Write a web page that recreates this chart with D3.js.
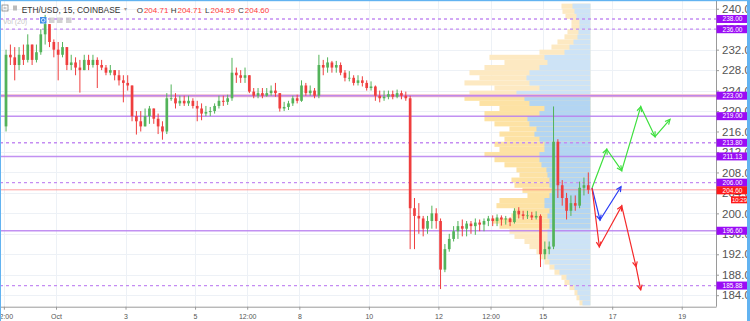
<!DOCTYPE html>
<html>
<head>
<meta charset="utf-8">
<script src="https://cdn.jsdelivr.net/npm/d3@7"></script>
<style>
body{margin:0;background:#fff;}
svg{display:block;font-family:"Liberation Sans",Arial,sans-serif;}
</style>
</head>
<body>
<svg id="chart" width="750" height="321"></svg>
<script>
// ETH/USD 15 COINBASE, candles resampled to 3h
var candleStart = Date.UTC(2017, 8, 29, 12);
var candleHours = 3;
var firstOpen = 217;
var closes = [231,230.5,229,231,230,233,230,231.5,235,237,233.5,232,231,232.5,229,229.5,228.5,228,230,229,
  230,229,228.5,227.5,228,227,226,225.5,225,219,218,217,219,220.5,218.5,217,216,222.5,222.5,221.5,
  222,221.5,222,221,220.5,219.5,219.8,220,221,222,221.8,222.5,227.5,227,226.5,227,223.8,223,223.5,223,
  223.5,224,223.5,220.5,220.8,221.5,222.5,222,225,223.5,224,223,229,228.5,229.5,228.5,229,227.5,226.5,226.5,
  225.5,226,225.5,224.5,224.8,223,222.5,222.8,223.3,222.8,223.5,223,222.5,201,199.5,199,197,198.5,200,198.5,
  189,193,195,196.5,197.5,197,198,197.5,198.2,197.8,198.5,199,198.5,199.2,198.8,199,198.3,200.5,199.8,199.5,
  199.6,199.2,199.5,192,193,193.5,214,205.5,203,200.5,202,201.5,205,205.5,204.6];
var highs = [232,233,232.5,232.5,233,235,233,233,236,238.8,237,234,233.5,233.5,232.5,231,230.5,230,231,231,
  231,230.5,230,229,229,228,228,227,227,225,220,220,220.5,221,220.5,219.5,218,223.5,225.2,223.5,
  223,223,223,222.5,222,221.5,221,220.8,221.5,223,223,223.2,230.4,228.5,228,228.5,227,224.5,224.5,224.5,
  224.5,225,225.5,223.5,221.8,222,223,223.2,226,225.5,225,224.5,231,230,230.5,229.8,229.8,229.5,228,227.8,
  227,227,226.8,226,225.8,225,224,224,224,224,224.2,224,223.8,223,203,202,199.5,199.5,201.5,201,
  199,194,196,197.5,198.5,198.8,198.5,198.5,199,198.8,199,199.5,199.6,199.8,199.6,199.5,199.2,201,201.2,200.5,
  200.5,200.3,200.4,199.8,194.5,194.5,220.9,214.5,206.5,204,203.5,203.5,206.2,207,208];
var lows = [216,229,226,228,229,229.5,229,229.5,231,233,232.5,230.5,226,230.5,228,228,227,223.6,228,228,
  228.5,224.5,228,227,227,226,225,221.7,224,218,215.4,216,217,217.5,217.5,215.5,214.4,215.5,222,220.5,
  221,221,221,220.5,218,218.2,219,219,219.5,220.5,221,221.2,222,225.5,225.5,225.5,223.5,222.5,222.5,222.5,
  222.8,223,222.8,219.9,220,220.2,221,221.5,221.8,223,223,222.5,222.5,227,227.5,227.5,227.5,227,225.8,225.8,
  225,225,224.8,224,224,222,221.7,222,222.3,222.3,222.5,222.3,222,193,193,196,195.5,196,197,197,
  185.2,188.5,192.5,194.5,195,195.5,195.5,196,195.8,196.5,196.5,197.5,197.5,197.5,197.6,197.8,197.5,198,199,198.8,
  198.9,198.7,198.8,189.5,191,192,193,203,201.5,198.8,199.5,200.5,201,203.5,203.8];

var header = {symbol: "ETH/USD, 15, COINBASE", o: "204.71", h: "204.71", l: "204.59", c: "204.60"};
var lastPrice = 204.60;
var countdown = "10:29";

var priceTicks = [184,188,192,196,200,204,208,212,216,220,224,228,232,236,240];
var timeTicks = [Date.UTC(2017,8,29,12), Date.UTC(2017,9,1), Date.UTC(2017,9,3), Date.UTC(2017,9,5),
  Date.UTC(2017,9,6,12), Date.UTC(2017,9,8), Date.UTC(2017,9,10), Date.UTC(2017,9,12),
  Date.UTC(2017,9,13,12), Date.UTC(2017,9,15), Date.UTC(2017,9,17), Date.UTC(2017,9,19)];
var timeLabels = ["12:00","Oct","3","5","12:00","8","10","12","12:00","15","17","19"];

// horizontal levels
var solidLevels = [223, 219, 211.13, 196.6];
var dashedLevels = [238, 236, 213.8, 206, 185.88];

// visible range volume profile, 1$ rows (bottom price of row), 182 .. 240
var profilePrices = d3.range(182, 241);
var profileUp = [8,11,13,16,21,24,31,36,41,43,
  43,43,43,43,43,41,41,43,41,46,
  46,41,39,41,41,43,44,49,51,51,
  46,46,51,56,54,61,63,51,46,61,
  66,74,51,61,64,61,51,43,46,26,
  21,17,13,12,11,11,14,16,18];
var profileTotal = [11,14,16,21,26,29,36,41,46,51,
  54,61,66,76,81,91,98,79,76,94,
  91,63,68,76,79,71,74,86,96,106,
  91,96,86,91,81,96,106,106,91,111,
  126,121,96,126,111,121,106,86,101,51,
  39,33,26,23,19,19,25,28,29];
var valueArea = [196.6, 223];

// hand drawn forecast paths [day of October, price]
var forecastGreen = [[16.42,204.96],[16.843,212.53],[17.274,208.34],[17.821,220.85],[18.233,214.99],[18.664,218.39]];
var forecastBlue = [[16.42,204.96],[16.65,198.7],[17.254,205.21]];
var forecastRed = [[16.42,204.96],[16.63,193.48],[17.274,201.44],[17.686,189.57],[17.821,185.02]];

var svgEle = document.getElementById("chart");
var svgWidth = parseFloat(svgEle.getAttribute("width"));
var svgHeight = parseFloat(svgEle.getAttribute("height"));
var plotRight = 716, plotBottom = 306.7;

var svg = d3.select("#chart");

var x = d3.scaleUtc()
  .domain([new Date(Date.UTC(2017,8,29,9,20)), new Date(Date.UTC(2017,9,19,23,40))])
  .range([0, plotRight]);
var y = d3.scaleLinear().domain([181.75, 241.71]).range([plotBottom, 0]);
var octDay = function(d){ return new Date(Date.UTC(2017,9,1) + (d - 1) * 864e5); };

svg.append("defs").append("clipPath").attr("id","plotClip")
  .append("rect").attr("width", plotRight).attr("height", plotBottom);

var plot = svg.append("g").attr("clip-path","url(#plotClip)");

// grid
plot.append("g").selectAll("line").data(priceTicks).enter().append("line")
  .attr("x1",0).attr("x2",plotRight)
  .attr("y1",function(d){return Math.round(y(d))+0.5;}).attr("y2",function(d){return Math.round(y(d))+0.5;})
  .attr("stroke","#edf1f6");
plot.append("g").selectAll("line").data(timeTicks).enter().append("line")
  .attr("y1",0).attr("y2",plotBottom)
  .attr("x1",function(d){return Math.round(x(d))+0.5;}).attr("x2",function(d){return Math.round(x(d))+0.5;})
  .attr("stroke","#edf1f6");

// volume profile
var anchor = x(new Date(candleStart + closes.length * candleHours * 3600e3));
var vol = d3.scaleLinear().domain([0, 130]).range([0, 130]);
var inVA = function(p){ return p >= Math.floor(valueArea[0]) + 1 && p < valueArea[1]; };
var rows = plot.append("g").selectAll("g").data(profilePrices).enter().append("g");
rows.append("rect")
  .attr("x",function(d,i){return anchor - vol(profileTotal[i]);})
  .attr("width",function(d,i){return vol(profileTotal[i]);})
  .attr("y",function(d){return y(d+1);})
  .attr("height",function(d){return y(d) - y(d+1);})
  .attr("fill",function(d){return inVA(d) ? "#fde2a4" : "#fde9c2";});
rows.append("rect")
  .attr("x",function(d,i){return anchor - vol(profileUp[i]);})
  .attr("width",function(d,i){return vol(profileUp[i]);})
  .attr("y",function(d){return y(d+1);})
  .attr("height",function(d){return y(d) - y(d+1);})
  .attr("fill",function(d){return inVA(d) ? "#b3d5f2" : "#cde3f6";});

// levels
plot.append("line").attr("x1",0).attr("x2",plotRight)
  .attr("y1",y(valueArea[1])).attr("y2",y(valueArea[1]))
  .attr("stroke","#f0b8c8").attr("stroke-width",3);
plot.append("g").selectAll("line").data(solidLevels).enter().append("line")
  .attr("x1",0).attr("x2",plotRight)
  .attr("y1",function(d){return y(d);}).attr("y2",function(d){return y(d);})
  .attr("stroke","#b77ef0").attr("stroke-width",1.5).attr("stroke-opacity",0.85);
plot.append("g").selectAll("line").data(dashedLevels).enter().append("line")
  .attr("x1",0).attr("x2",plotRight)
  .attr("y1",function(d){return y(d);}).attr("y2",function(d){return y(d);})
  .attr("stroke","#c48cf2").attr("stroke-width",1.3).attr("stroke-dasharray","3,3");

// current price line
plot.append("line").attr("x1",0).attr("x2",plotRight)
  .attr("y1",y(lastPrice)).attr("y2",y(lastPrice))
  .attr("stroke","#f77").attr("stroke-opacity",0.7);

// candles
var candles = closes.map(function(c,i){
  return {t: new Date(candleStart + (i + 0.5) * candleHours * 3600e3),
    o: i === 0 ? firstOpen : closes[i-1], h: highs[i], l: lows[i], c: c};
});
var bw = (x(new Date(candleStart + candleHours*3600e3)) - x(new Date(candleStart))) * 0.62;
var cg = plot.append("g").selectAll("g").data(candles).enter().append("g")
  .attr("stroke",function(d){return d.c >= d.o ? "#53b35a" : "#ef3e3e";})
  .attr("fill",function(d){return d.c >= d.o ? "#53b35a" : "#ef3e3e";});
cg.append("line")
  .attr("x1",function(d){return x(d.t);}).attr("x2",function(d){return x(d.t);})
  .attr("y1",function(d){return y(Math.max(d.h,d.o,d.c));})
  .attr("y2",function(d){return y(Math.min(d.l,d.o,d.c));})
  .attr("stroke-width",1);
cg.append("rect")
  .attr("x",function(d){return x(d.t) - bw/2;}).attr("width",bw)
  .attr("y",function(d){return y(Math.max(d.o,d.c));})
  .attr("height",function(d){return Math.max(0.8, y(Math.min(d.o,d.c)) - y(Math.max(d.o,d.c)));})
  .attr("stroke","none");

// forecast arrows
function drawForecast(pts, color){
  var g = plot.append("g").attr("stroke",color).attr("fill","none").attr("stroke-width",1.2);
  var xy = pts.map(function(p){return [x(octDay(p[0])), y(p[1])];});
  g.append("path").attr("d", d3.line()(xy));
  for (var i = 1; i < xy.length; i++){
    var a = Math.atan2(xy[i][1]-xy[i-1][1], xy[i][0]-xy[i-1][0]);
    var L = 5.5, s = 0.45;
    var p1 = [xy[i][0] - L*Math.cos(a - s), xy[i][1] - L*Math.sin(a - s)];
    var p2 = [xy[i][0] - L*Math.cos(a + s), xy[i][1] - L*Math.sin(a + s)];
    g.append("path").attr("d", d3.line()([p1, xy[i], p2]));
  }
}
drawForecast(forecastGreen, "#3ee03e");
drawForecast(forecastBlue, "#2a3cf5");
drawForecast(forecastRed, "#f52a2a");

// axes
var xAxis = d3.axisBottom(x)
  .tickValues(timeTicks.map(function(d){return new Date(d);}))
  .tickFormat(function(d,i){return timeLabels[i];})
  .tickSize(3).tickSizeOuter(0);
var gx = svg.append("g").attr("transform","translate(0,"+plotBottom+")").call(xAxis);
gx.select(".domain").attr("stroke","#9a9a9a");
gx.selectAll(".tick line").attr("stroke","#9a9a9a");
gx.selectAll("text").attr("fill","#555").attr("font-size","7px").attr("font-family","Liberation Sans, Arial").attr("dy","0.9em");

var yAxis = d3.axisRight(y).tickValues(priceTicks)
  .tickFormat(function(d){return d.toFixed(1);}).tickSize(3).tickSizeOuter(0).tickPadding(3);
var gy = svg.append("g").attr("transform","translate("+plotRight+",0)").call(yAxis);
gy.select(".domain").attr("d","M0.5,0V"+plotBottom).attr("stroke","#9a9a9a");
gy.selectAll(".tick line").attr("stroke","#9a9a9a");
gy.selectAll("text").attr("fill","#555").attr("font-size","11.5px").attr("font-family","Liberation Sans, Arial");

// price labels on the axis
var allLevels = solidLevels.concat(dashedLevels);
var lab = svg.append("g").selectAll("g").data(allLevels).enter().append("g");
lab.append("rect").attr("x",plotRight+0.5).attr("width",32)
  .attr("y",function(d){return y(d)-4;}).attr("height",8).attr("fill","#9a0cf5");
lab.append("text").attr("x",plotRight+16.5).attr("y",function(d){return y(d)+2.3;})
  .attr("text-anchor","middle").attr("font-size","6.5px").attr("fill","#fff")
  .text(function(d){return d.toFixed(2);});
svg.append("rect").attr("x",plotRight+0.5).attr("width",32).attr("y",y(lastPrice)-3.5).attr("height",8).attr("fill","#ff1a1a");
svg.append("text").attr("x",plotRight+16.5).attr("y",y(lastPrice)+2.8).attr("text-anchor","middle")
  .attr("font-size","6.5px").attr("fill","#fff").text(lastPrice.toFixed(2));
svg.append("rect").attr("x",731).attr("width",17).attr("y",y(lastPrice)+6.5).attr("height",7).attr("fill","#ff1a1a");
svg.append("text").attr("x",739.5).attr("y",y(lastPrice)+12).attr("text-anchor","middle")
  .attr("font-size","6px").attr("fill","#fff").text(countdown);

// header legend
var hd = svg.append("g").attr("font-size","8px");
hd.append("rect").attr("x",2).attr("y",5).attr("width",6).attr("height",6).attr("fill","none").attr("stroke","#777").attr("stroke-width",0.7);
hd.append("line").attr("x1",3.5).attr("x2",6.5).attr("y1",8).attr("y2",8).attr("stroke","#777").attr("stroke-width",0.7);
hd.append("rect").attr("x",13).attr("y",5.5).attr("width",4).attr("height",5).attr("fill","#bbb");
hd.append("text").attr("x",21.7).attr("y",12.5).attr("fill","#333").attr("font-size","8.4px").text(header.symbol);
hd.append("text").attr("x",124).attr("y",11).attr("fill","#999").attr("font-size","6px").text("▾");
var ohlc = [["O",136.7,header.o],["H",170.7,header.h],["L",205,header.l],["C",238,header.c]];
ohlc.forEach(function(k){
  var t = hd.append("text").attr("x",k[1]).attr("y",12.5);
  t.append("tspan").attr("fill","#333").text(k[0]);
  t.append("tspan").attr("fill","#ff3b3b").attr("dx",1).text(k[2]);
});
var vg = svg.append("g");
vg.append("text").attr("x",3).attr("y",24).attr("font-size","7px").attr("fill","#c9c9c9").text("Vol (20)");
vg.append("rect").attr("x",40).attr("y",17).attr("width",6.5).attr("height",6.5).attr("fill","#3d8fe8");
vg.append("circle").attr("cx",43.25).attr("cy",20.25).attr("r",1.8).attr("fill","none").attr("stroke","#fff").attr("stroke-width",0.8);
[49,57,66].forEach(function(v){
  vg.append("rect").attr("x",v).attr("y",17.5).attr("width",5.5).attr("height",5.5).attr("fill","#c8c8c8").attr("opacity",0.8);
});

// pane frame
svg.append("rect").attr("x",747).attr("y",0).attr("width",3).attr("height",svgHeight).attr("fill","#62b3f1");
svg.append("rect").attr("x",0).attr("y",0).attr("width",svgWidth).attr("height",1.2).attr("fill","#62b3f1");
svg.append("rect").attr("x",0).attr("y",0).attr("width",1).attr("height",svgHeight).attr("fill","#62b3f1");
</script>
</body>
</html>
